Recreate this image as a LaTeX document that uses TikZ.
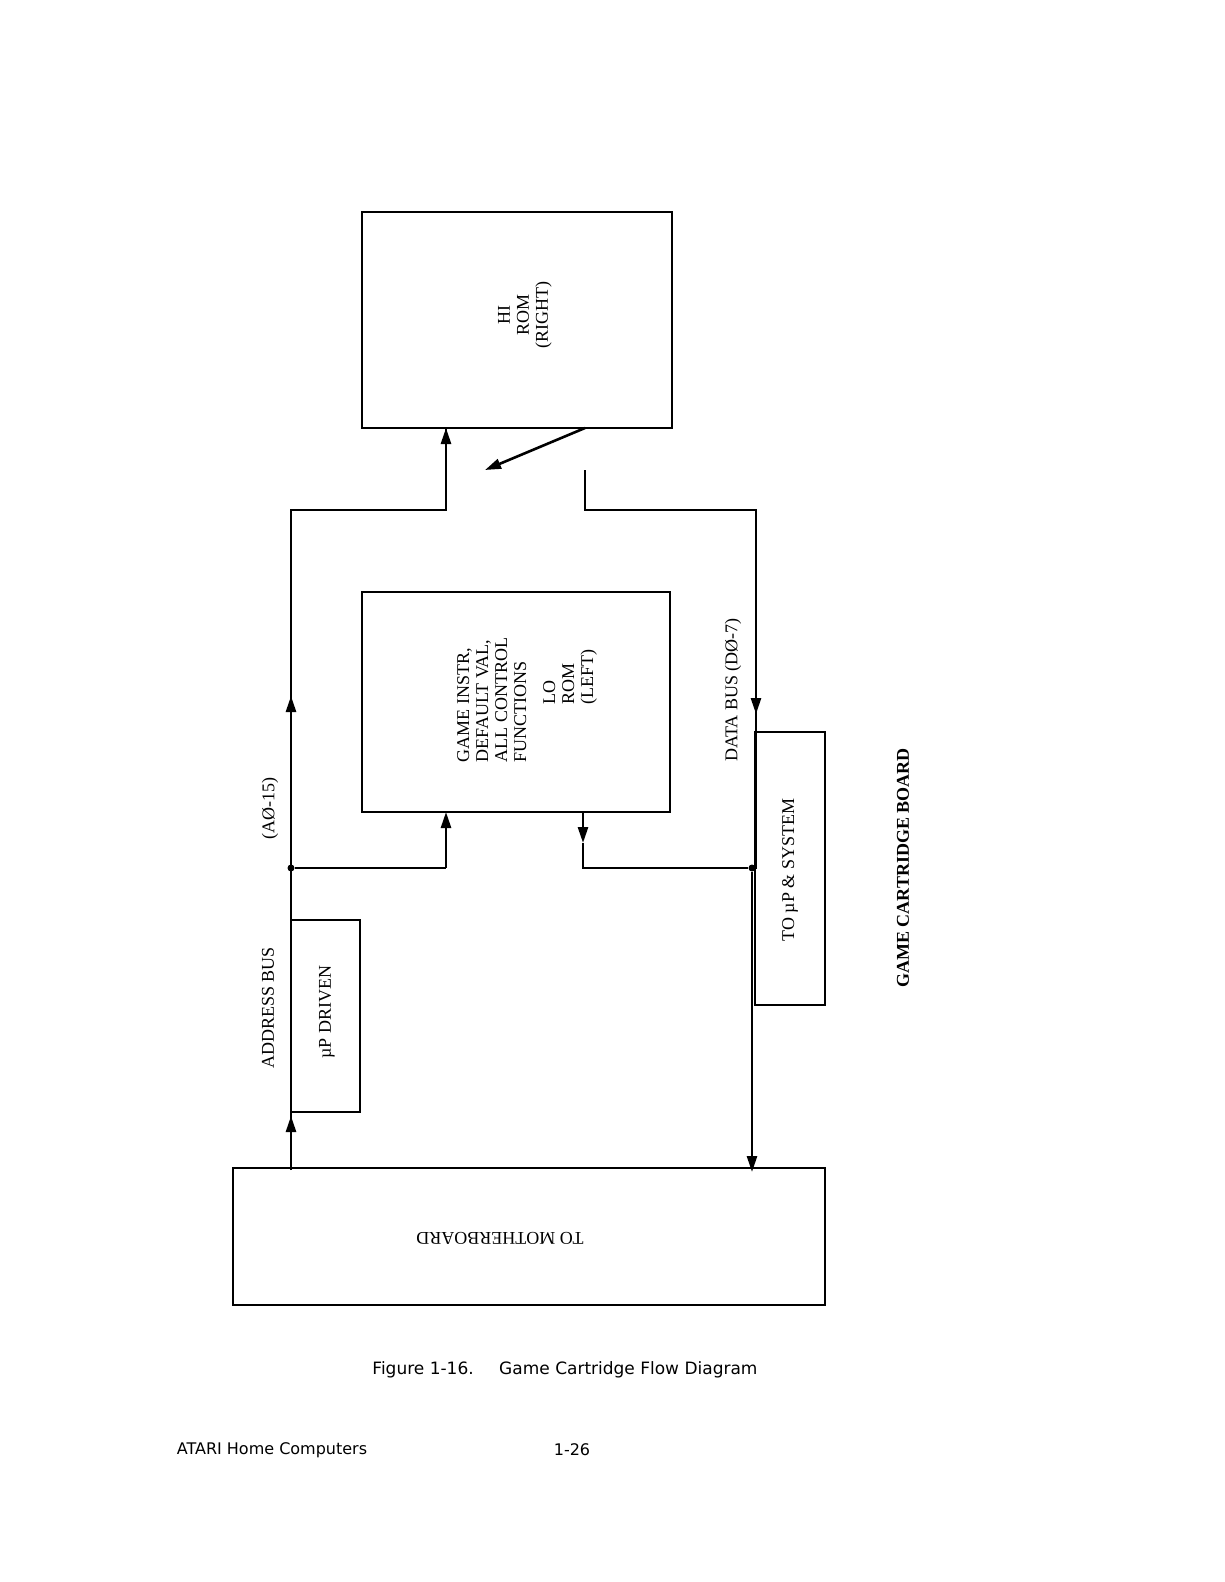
\documentclass[tikz,border=0pt]{standalone}
\usepackage{fontspec}
\setmainfont{Liberation Serif}
\newfontfamily\capfont{DejaVu Sans}
\usetikzlibrary{arrows.meta}
\begin{document}
\begin{tikzpicture}[x=1pt,y=-1pt,
  ln/.style={line width=2.6pt},
  ar/.style={ln,-{Triangle[length=16pt,width=10pt]}},
  box/.style={draw,line width=2.6pt,inner sep=0pt},
  lbl/.style={font=\fontsize{18}{19}\selectfont,rotate=90},
  dot/.style={circle,fill,inner sep=0pt,minimum size=7pt}]
\useasboundingbox (0,0) rectangle (1224,1582);
% boxes
\draw[box] (362,212) rectangle (672,428);
\node[lbl,align=center] (hi) at (525,315) {HI\\ROM\\(RIGHT)};
\draw[box] (362,592) rectangle (670,812);
\node[lbl,align=left] (lo) at (527,700) {GAME INSTR,\\DEFAULT VAL,\\ALL CONTROL\\FUNCTIONS\\[10pt]\hspace*{3.2em}LO\\\hspace*{3.2em}ROM\\\hspace*{3.2em}(LEFT)};
\draw[box] (291,920) rectangle (360,1112);
\node[lbl] (mp) at (327,1012) {µP DRIVEN};
\draw[box] (755,732) rectangle (825,1005);
\node[lbl] (sys) at (790,870) {TO µP \& SYSTEM};
\draw[box] (233,1168) rectangle (825,1305);
\node[font=\fontsize{18}{19}\selectfont,rotate=180] (mb) at (500,1238) {TO MOTHERBOARD};
% coordinates
\coordinate (a0) at (291,1168);
\coordinate (a1) at (291,510);
\coordinate (a2) at (446,510);
\coordinate (a3) at (446,428);
\node[dot] (ad) at (291,868) {};
\coordinate (a4) at (446,868);
\coordinate (a5) at (446,812);
\coordinate (d0) at (585,428);
\coordinate (d1) at (585,510);
\coordinate (d2) at (756,510);
\coordinate (d3) at (752,1172);
\node[dot] (dd) at (752,868) {};
\coordinate (d4) at (583,868);
\coordinate (d5) at (583,812);
% address bus
\draw[ln] (a0) -- (a1) -- (a2) -- (a3);
\draw[ar] (a2) -- (a3);
\draw[ar] (291,1170) -- (291,1116);
\draw[ar] (291,760) -- (291,696);
\draw[ln] (ad) -- (a4);
\draw[ar] (a4) -- (a5);
% data bus
\draw[ar] (d0) -- (485,470) ;
\draw[ln] (585,470) -- (d1) -- (d2) -- (756,868) -- (752,868);
\draw[ar] (756,650) -- (756,714);
\draw[ar] (dd) -- (d3);
\draw[ar] (d5) -- (583,843);
\draw[ln] (583,843) -- (d4) -- (dd);
% labels
\node[lbl] (abus) at (268,1008) {ADDRESS BUS};
\node[lbl] (arng) at (270,808) {(A\O-15)};
\node[lbl] (dbus) at (733,690) {DATA BUS (D\O-7)};
\node[lbl,font=\bfseries\fontsize{18}{19}\selectfont] (gcb) at (903,868) {GAME CARTRIDGE BOARD};
\node[font=\capfont\fontsize{17}{18}\selectfont] (cap) at (565,1370) {Figure 1-16.\hspace{1.5em}Game Cartridge Flow Diagram};
\node[font=\capfont\fontsize{16}{17}\selectfont] (foot) at (272,1450) {ATARI Home Computers};
\node[font=\capfont\fontsize{16}{17}\selectfont] (pg) at (572,1450) {1-26};
\end{tikzpicture}
\end{document}
